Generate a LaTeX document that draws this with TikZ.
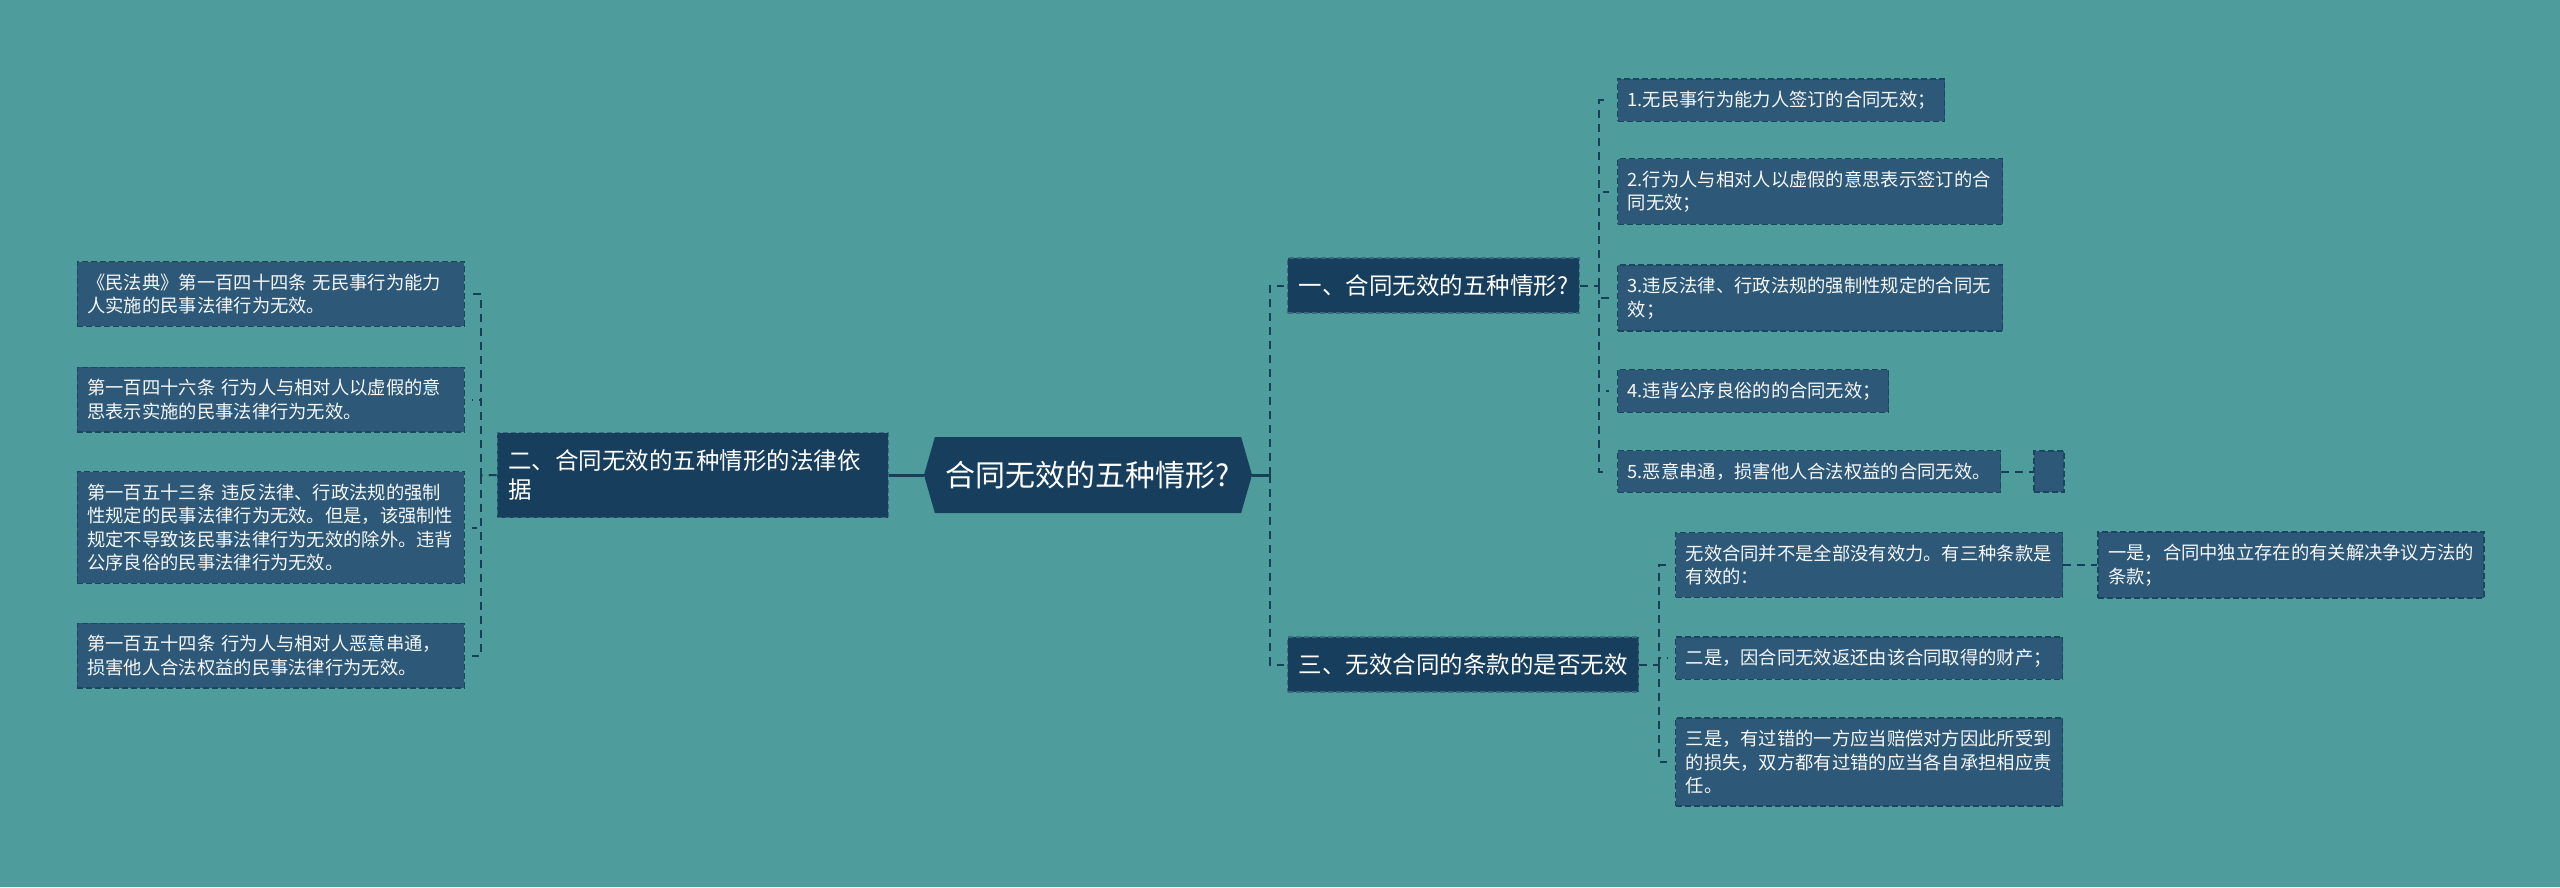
\documentclass[tikz,border=0pt]{standalone}
\usepackage{fontspec}
\setmainfont{Noto Sans CJK SC}
\usetikzlibrary{positioning, shapes.symbols}
\definecolor{bgc}{HTML}{4E9C9C}
\definecolor{rootc}{HTML}{173E5C}
\definecolor{leafc}{HTML}{2D5877}
\definecolor{edgec}{HTML}{1B4660}
\definecolor{topedge}{HTML}{3A6A80}
\definecolor{linec}{HTML}{173F57}

\begin{document}
\begin{tikzpicture}[
    x=1pt, y=-1pt,
    root/.style={shape=signal, signal to=east and west, signal pointer angle=148,
                 fill=rootc, text=white, inner sep=0pt,
                 minimum width=328pt, minimum height=76pt,
                 font=\fontsize{30}{36}\selectfont},
    topic/.style={draw=topedge, line width=1.2pt, dash pattern=on 5pt off 3pt,
                  fill=rootc, text=white, align=left, inner xsep=11pt, inner ysep=0pt,
                  font=\fontsize{23.5}{29}\selectfont},
    leaf/.style={draw=edgec, line width=1.4pt, dash pattern=on 6pt off 3pt,
                 fill=leafc, text=white!95!leafc, align=left, text width=#1,
                 inner xsep=10pt, inner ysep=12pt,
                 font=\fontsize{18.3}{23.5}\selectfont},
    link/.style={draw=linec, line width=2pt, dash pattern=on 8pt off 6pt},
    core/.style={draw=linec, line width=3pt},
]
\fill[bgc] (0,0) rectangle (2560,887);
\useasboundingbox (0,0) rectangle (2560,887);

% centre
\node[root] (root) at (1088,475) {合同无效的五种情形?};

% left side
\node[topic, text width=369pt, minimum height=85pt, left=35pt of root] (law) {二、合同无效的五种情形的法律依\\据};
\node[leaf=367pt, anchor=east] (l1) at (465,294) {《民法典》第一百四十四条 无民事行为能力\\人实施的民事法律行为无效。};
\node[leaf=367pt, anchor=east] (l2) at (465,399.5) {第一百四十六条 行为人与相对人以虚假的意\\思表示实施的民事法律行为无效。};
\node[leaf=367pt, anchor=east] (l3) at (465,527.5) {第一百五十三条 违反法律、行政法规的强制\\性规定的民事法律行为无效。但是，该强制性\\规定不导致该民事法律行为无效的除外。违背\\公序良俗的民事法律行为无效。};
\node[leaf=367pt, anchor=east] (l4) at (465,655.5) {第一百五十四条 行为人与相对人恶意串通，\\损害他人合法权益的民事法律行为无效。};

% right side
\node[topic, minimum height=55pt, anchor=west] (kind) at (1287,285.5) {一、合同无效的五种情形?};
\node[topic, minimum height=55pt, anchor=west] (term) at (1287,664.5) {三、无效合同的条款的是否无效};

\node[leaf=307pt, anchor=west] (c1) at (1617,100) {1.无民事行为能力人签订的合同无效；};
\node[leaf=365pt, anchor=west] (c2) at (1617,191.5) {2.行为人与相对人以虚假的意思表示签订的合\\同无效；};
\node[leaf=365pt, anchor=west] (c3) at (1617,298) {3.违反法律、行政法规的强制性规定的合同无\\效；};
\node[leaf=251pt, anchor=west] (c4) at (1617,391) {4.违背公序良俗的的合同无效；};
\node[leaf=363pt, anchor=west] (c5) at (1617,471.5) {5.恶意串通，损害他人合法权益的合同无效。};
\node[leaf=10pt, minimum height=41pt, right=32pt of c5] (c5x) {};

\node[leaf=367pt, anchor=west] (d1) at (1675,565) {无效合同并不是全部没有效力。有三种条款是\\有效的：};
\node[leaf=367pt, anchor=west] (d2) at (1675,658) {二是，因合同无效返还由该合同取得的财产；};
\node[leaf=367pt, anchor=west] (d3) at (1675,762) {三是，有过错的一方应当赔偿对方因此所受到\\的损失，双方都有过错的应当各自承担相应责\\任。};
\node[leaf=366pt, right=34pt of d1] (e1) {一是，合同中独立存在的有关解决争议方法的\\条款；};

% forks
\coordinate (lfork) at (481,475.5);
\coordinate (rfork) at (1270,475);
\coordinate (kfork) at (1599,285.5);
\coordinate (tfork) at (1659,664.5);

% connectors
\draw[core] (root.west) -- (law.east);
\draw[core] (root.east) -- (rfork);
\draw[link] (law.west) -- (lfork);
\foreach \n in {l1,l2,l3,l4}
  \draw[link, shorten >=7pt] (lfork) |- (\n.east);
\draw[link, shorten >=3pt] (rfork) |- (kind.west);
\draw[link, shorten >=3pt] (rfork) |- (term.west);
\draw[link] (kind.east) -- (kfork);
\foreach \n in {c1,c2,c3,c4,c5}
  \draw[link, shorten >=8pt] (kfork) |- (\n.west);
\draw[link] (term.east) -- (tfork);
\foreach \n in {d1,d2,d3}
  \draw[link, shorten >=8pt] (tfork) |- (\n.west);
\draw[link] (c5) -- (c5x);
\draw[link] (d1) -- (e1);
\end{tikzpicture}
\end{document}
